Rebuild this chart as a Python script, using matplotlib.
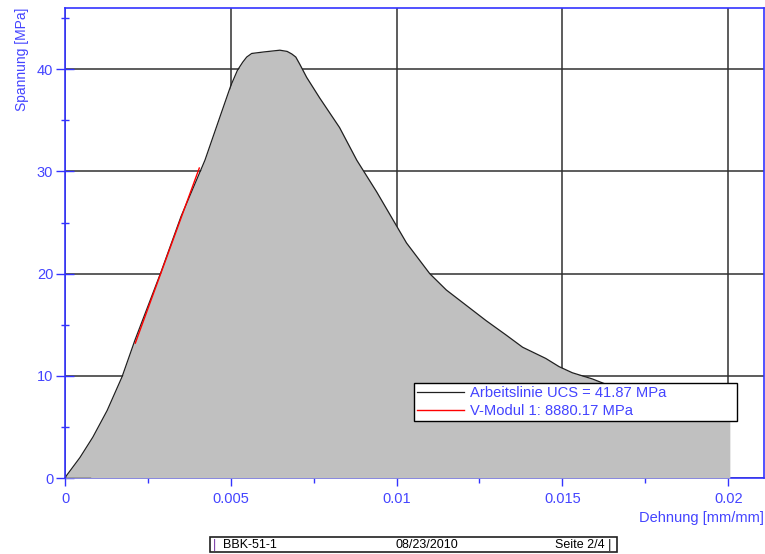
import matplotlib
matplotlib.use("Agg")
import matplotlib.pyplot as plt
from matplotlib.patches import Rectangle
from matplotlib.ticker import MultipleLocator, FuncFormatter

plt.rcParams["font.family"] = ["Liberation Sans", "DejaVu Sans"]

# stress-strain curve
strain = [0, 0.00006, 0.00045, 0.00084, 0.00127, 0.00172, 0.00211, 0.0029, 0.0035,
          0.00422, 0.0047, 0.0050, 0.0052, 0.00536, 0.00548, 0.00563, 0.0060,
          0.00648, 0.0067, 0.00684, 0.00696, 0.00708, 0.00729, 0.00768, 0.00828,
          0.00880, 0.0094, 0.00994, 0.0103, 0.0110, 0.0115, 0.0119, 0.0127,
          0.0133, 0.0138, 0.0145, 0.0149, 0.0153, 0.0159, 0.0170, 0.0180,
          0.0190, 0.02005]
stress = [0, 0.3, 2.0, 4.0, 6.6, 9.9, 13.5, 20.2, 25.6,
          31.1, 35.6, 38.4, 39.9, 40.7, 41.2, 41.55, 41.7,
          41.87, 41.75, 41.5, 41.2, 40.5, 39.2, 37.2, 34.3,
          31.1, 28.0, 25.0, 23.0, 20.0, 18.4, 17.4, 15.4,
          14.0, 12.8, 11.7, 10.9, 10.3, 9.7, 8.3, 7.3,
          6.4, 5.6]

# elastic modulus line
modul = 8880.17
modul_strain = [0.00212, 0.00405]
modul_stress = [13.2, 13.2 + modul * (0.00405 - 0.00212)]

# short baseline segment at zero
base_strain = [0, 0.00075]
base_stress = [0, 0]

ucs = 41.87
labels = ["Arbeitslinie UCS = %.2f MPa" % ucs, "V-Modul 1: %.2f MPa" % modul]
footer = ["BBK-51-1", "08/23/2010", "Seite 2/4"]

blue = "#4444ff"
spine_blue = "#3333ff"

fig = plt.figure(figsize=(7.65, 5.54), dpi=100)
ax = fig.add_axes([65 / 765, 76 / 554, 699 / 765, 470 / 554])

ax.set_axisbelow(True)
ax.grid(True, which="major", color="#303030", linewidth=1.1)
ax.fill_between(strain, stress, color="#c0c0c0", zorder=3, linewidth=0)
line1, = ax.plot(strain, stress, color="#202020", linewidth=0.9, zorder=4)
line2, = ax.plot(modul_strain, modul_stress, color="red", linewidth=1.0, zorder=5)
ax.plot(base_strain, base_stress, color="black", linewidth=1.0, zorder=5)

ax.set_xlim(0, 0.02108)
ax.set_ylim(0, 46)

ax.xaxis.set_major_locator(MultipleLocator(0.005))
ax.xaxis.set_minor_locator(MultipleLocator(0.0025))
ax.yaxis.set_major_locator(MultipleLocator(10))
ax.yaxis.set_minor_locator(MultipleLocator(5))
ax.xaxis.set_major_formatter(FuncFormatter(lambda v, p: "0" if v == 0 else ("%g" % round(v, 4))))
ax.yaxis.set_major_formatter(FuncFormatter(lambda v, p: "%d" % v))

ax.tick_params(axis="x", which="major", direction="out", length=6, width=1,
               color=spine_blue, labelcolor=blue, labelsize=10.5, pad=4)
ax.tick_params(axis="x", which="minor", direction="out", length=3.5, width=1, color=spine_blue)
ax.tick_params(axis="y", which="major", direction="inout", length=13, width=1,
               color=spine_blue, labelcolor=blue, labelsize=10.5, pad=2)
ax.tick_params(axis="y", which="minor", direction="inout", length=6, width=1, color=spine_blue)

for name, sp in ax.spines.items():
    sp.set_color(spine_blue)
    sp.set_linewidth(1.2)
    if name != "bottom":
        sp.set_zorder(6)

ax.text(-0.062, 1.0, "Spannung [MPa]", transform=ax.transAxes, rotation=90,
        ha="center", va="top", color=blue, fontsize=10)
ax.text(1.0, -0.085, "Dehnung [mm/mm]", transform=ax.transAxes,
        ha="right", va="center", color=blue, fontsize=10.5)

leg = ax.legend([line1, line2], labels, loc="lower left",
                bbox_to_anchor=(0.4993, 0.121, 0.462, 0.085), mode="expand",
                borderaxespad=0, fancybox=False, framealpha=1, fontsize=10.6,
                handlelength=3.2, handletextpad=0.4, labelspacing=0.3,
                borderpad=0.2, labelcolor=blue)
leg.get_frame().set_edgecolor("black")
leg.get_frame().set_linewidth(1.0)
leg.set_zorder(7)

# footer box
fig.patches.append(Rectangle((210 / 765, 2 / 554), 407 / 765, 15 / 554,
                             transform=fig.transFigure, fill=False,
                             edgecolor="#202020", linewidth=1.2))
fig.text(213 / 765, 9 / 554, "|", color="#7030a0", fontsize=9, va="center")
fig.text(223 / 765, 9 / 554, footer[0], fontsize=9, va="center")
fig.text(427 / 765, 9 / 554, footer[1], fontsize=9, va="center", ha="center")
fig.text(611 / 765, 9 / 554, footer[2] + " |", fontsize=9, va="center", ha="right")

fig.savefig("out.png", dpi=100)
